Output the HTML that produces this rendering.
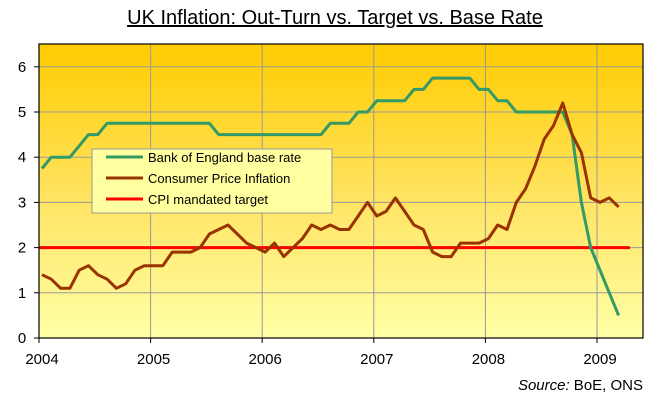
<!DOCTYPE html>
<html><head><meta charset="utf-8"><style>
body{margin:0;background:#fff;}
svg text{font-family:"Liberation Sans",Arial,sans-serif;}
</style></head><body>
<svg width="669" height="403" viewBox="0 0 669 403" xmlns="http://www.w3.org/2000/svg">
<defs><linearGradient id="bg" x1="0" y1="0" x2="0" y2="1">
<stop offset="0" stop-color="#FFCC00"/><stop offset="0.55" stop-color="#FFE566"/><stop offset="1" stop-color="#FFFFA6"/></linearGradient></defs>
<text x="335" y="24" font-size="20" text-anchor="middle" text-decoration="underline">UK Inflation: Out-Turn vs. Target vs. Base Rate</text>
<rect x="39" y="44" width="604" height="294" fill="url(#bg)"/>
<g id="grid"></g>
<g id="series"></g>
<rect x="39" y="44" width="604" height="294" fill="none" stroke="#000" stroke-width="1.2"/>
<g id="axes"></g>
<g>
<rect x="92" y="149" width="240" height="64" fill="#FFFFA0" stroke="#999" stroke-width="1"/>
<line x1="106" y1="157" x2="143" y2="157" stroke="#339966" stroke-width="3"/>
<text x="148" y="162" font-size="13">Bank of England base rate</text>
<line x1="106" y1="178" x2="143" y2="178" stroke="#993300" stroke-width="3"/>
<text x="148" y="183" font-size="13">Consumer Price Inflation</text>
<line x1="106" y1="199" x2="143" y2="199" stroke="#FF0000" stroke-width="3"/>
<text x="148" y="204" font-size="13">CPI mandated target</text>
</g>
<text x="643" y="390" font-size="15" text-anchor="end"><tspan font-style="italic">Source:</tspan>  BoE, ONS</text>
</svg>
<script>
const yearLabels=["2004","2005","2006","2007","2008","2009"];
const yTicks=[0,1,2,3,4,5,6];
const baseRate=[3.75,4.0,4.0,4.0,4.25,4.5,4.5,4.75,4.75,4.75,4.75,4.75,4.75,4.75,4.75,4.75,4.75,4.75,4.75,4.5,4.5,4.5,4.5,4.5,4.5,4.5,4.5,4.5,4.5,4.5,4.5,4.75,4.75,4.75,5.0,5.0,5.25,5.25,5.25,5.25,5.5,5.5,5.75,5.75,5.75,5.75,5.75,5.5,5.5,5.25,5.25,5.0,5.0,5.0,5.0,5.0,5.0,4.5,3.0,2.0,1.5,1.0,0.5];
const cpi=[1.4,1.3,1.1,1.1,1.5,1.6,1.4,1.3,1.1,1.2,1.5,1.6,1.6,1.6,1.9,1.9,1.9,2.0,2.3,2.4,2.5,2.3,2.1,2.0,1.9,2.1,1.8,2.0,2.2,2.5,2.4,2.5,2.4,2.4,2.7,3.0,2.7,2.8,3.1,2.8,2.5,2.4,1.9,1.8,1.8,2.1,2.1,2.1,2.2,2.5,2.4,3.0,3.3,3.8,4.4,4.7,5.2,4.5,4.1,3.1,3.0,3.1,2.9];
const target=[2,2];
const NS="http://www.w3.org/2000/svg";
const X0=39,YEARW=111.6,MONTH=YEARW/12;
function xM(m){return X0+3+m*MONTH;}
function xY(i){return X0+i*YEARW;}
function yV(v){return 338-v*45.2;}
const grid=document.getElementById('grid'),axes=document.getElementById('axes'),ser=document.getElementById('series');
function mk(tag,attrs,parent){const e=document.createElementNS(NS,tag);for(const k in attrs)e.setAttribute(k,attrs[k]);parent.appendChild(e);return e;}
yTicks.forEach(v=>{
 if(v>0){const g=mk('line',{x1:39,x2:643,y1:yV(v),y2:yV(v),stroke:'#999','stroke-width':1},grid);
 
 }
 mk('line',{x1:34,x2:39,y1:yV(v),y2:yV(v),stroke:'#000'},axes);
 const t=mk('text',{x:22,y:yV(v)+5,'font-size':15,'text-anchor':'middle'},axes);t.textContent=v;
 
 
});
yearLabels.forEach((lab,i)=>{
 const x=xY(i);
 if(i>0){const g=mk('line',{x1:x,x2:x,y1:44,y2:338,stroke:'#999','stroke-width':1},grid);
 
 }
 mk('line',{x1:x,x2:x,y1:338,y2:343,stroke:'#000'},axes);
 const t=mk('text',{x:x+3,y:364,'font-size':15,'text-anchor':'middle'},axes);t.textContent=lab;
 
 
});
const tl=mk('line',{x1:X0,x2:630,y1:yV(target[0]),y2:yV(target[1]),stroke:'#FF0000','stroke-width':3},ser);


function poly(arr,color,name){
 const p=mk('polyline',{points:arr.map((v,i)=>xM(i).toFixed(1)+','+yV(v).toFixed(1)).join(' '),fill:'none',stroke:color,'stroke-width':3,'stroke-linejoin':'round'},ser);
 
 
}
poly(baseRate,'#339966','base-rate-line');
poly(cpi,'#993300','cpi-line');
</script>
</body></html>
